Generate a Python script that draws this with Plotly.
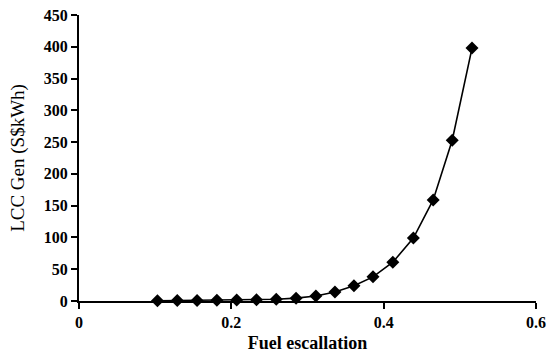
import plotly.graph_objects as go

fuel_escalation = [0.103, 0.129, 0.155, 0.181, 0.207, 0.233, 0.259, 0.285, 0.311,
                   0.336, 0.361, 0.386, 0.412, 0.439, 0.465, 0.490, 0.516]
lcc_gen = [0.5, 0.7, 0.9, 1.2, 1.6, 2.1, 2.8, 4.5, 8.0,
           14, 24, 38, 61, 99, 159, 253, 398]

x_ticks = [0, 0.2, 0.4, 0.6]
x_tick_text = ["0", "0.2", "0.4", "0.6"]
y_ticks = list(range(0, 451, 50))

fig = go.Figure(go.Scatter(
    x=fuel_escalation, y=lcc_gen, mode="lines+markers",
    line=dict(color="black", width=1.6),
    marker=dict(symbol="diamond", size=10, color="black"),
    cliponaxis=False,
))

font_ticks = dict(family="Liberation Serif", size=16, color="black", weight="bold")

fig.update_layout(
    width=548, height=354,
    margin=dict(l=79, r=12, t=15, b=53),
    paper_bgcolor="white", plot_bgcolor="white",
    showlegend=False,
    xaxis=dict(range=[0, 0.6], tickvals=x_ticks, ticktext=x_tick_text, automargin=False,
               showgrid=False, zeroline=False, showline=True, linecolor="black", linewidth=2,
               ticks="outside", ticklen=6, tickwidth=2, tickcolor="black",
               tickfont=font_ticks,
               title=dict(text="Fuel escallation",
                          font=dict(family="Liberation Serif", size=18, color="black", weight="bold"),
                          standoff=6)),
    yaxis=dict(range=[0, 450], tickvals=y_ticks, automargin=False,
               showgrid=False, zeroline=False, showline=True, linecolor="black", linewidth=2,
               ticks="outside", ticklen=6, tickwidth=2, tickcolor="black",
               tickfont=font_ticks,
               title=dict(text="LCC Gen (S$kWh)",
                          font=dict(family="Liberation Serif", size=19, color="black"),
                          standoff=14)),
)

fig.write_html("out.html", config={"displayModeBar": False},
               post_script="document.body.style.margin='0px';")
